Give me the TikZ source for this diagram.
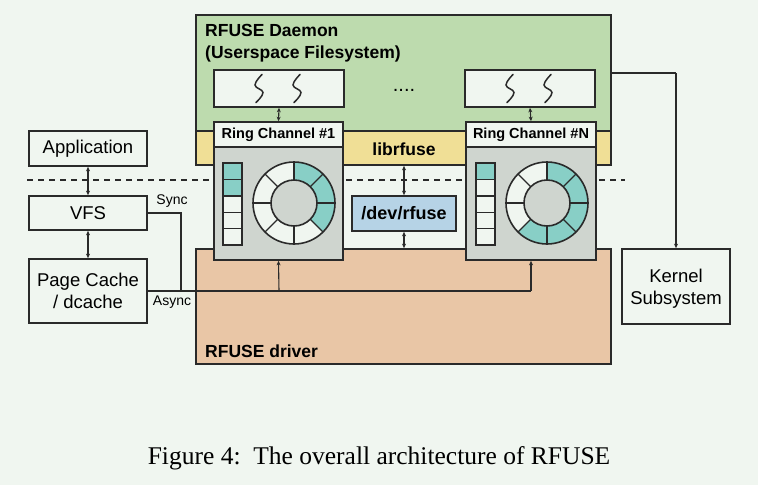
\documentclass[tikz,border=0pt]{standalone}
\usepackage{fontspec}
\setmainfont{Liberation Serif}
\setsansfont{Liberation Sans}
\usetikzlibrary{arrows.meta,calc}
\definecolor{bg}{HTML}{F0F6F0}
\definecolor{dgreen}{HTML}{BDDBAE}
\definecolor{dyellow}{HTML}{F0DF96}
\definecolor{rgray}{HTML}{CFD5CF}
\definecolor{rteal}{HTML}{88CFC6}
\definecolor{dpeach}{HTML}{E9C6A6}
\definecolor{dblue}{HTML}{B6D3E6}
\definecolor{lc}{HTML}{2A2A2A}
\tikzset{
  box/.style={draw=lc,line width=1.7pt,inner sep=0pt,align=center},
  lbl/.style={font=\sffamily\bfseries\fontsize{17.5}{22}\selectfont,anchor=base west,align=left,inner sep=0pt},
  plain/.style={font=\sffamily\fontsize{18.5}{22}\selectfont},
  dbl/.style={draw=lc,line width=1.1pt,{Stealth[length=4.5pt,width=4pt]}-{Stealth[length=4.5pt,width=4pt]}},
  sarr/.style={draw=lc,line width=1.1pt,-{Stealth[length=4.5pt,width=4pt]}},
  wire/.style={draw=lc,line width=1.1pt},
}
\begin{document}
\begin{tikzpicture}[x=1pt,y=-1pt]
\fill[bg] (0,0) rectangle (758,485);
\useasboundingbox (0,0) rectangle (758,485);
% dashed line
\draw[lc,line width=1.5pt,dash pattern=on 6pt off 5pt] (27,180) -- (625,180);
% daemon
\node[box,fill=dgreen,minimum width=415,minimum height=150] (daemon) at (403.5,90) {};
\node[box,fill=dyellow,minimum width=415,minimum height=34] (librfuse) at (403.5,148) {};
\node[font=\sffamily\bfseries\fontsize{17.5}{20}\selectfont] (libtxt) at (404,149) {librfuse};
\node[lbl] (dtxt) at (205,58) {RFUSE Daemon\\(Userspace Filesystem)};
% driver
\node[box,fill=dpeach,minimum width=415,minimum height=115] (driver) at (403.5,306.5) {};
\node[lbl] (drtxt) at (205,357) {RFUSE driver};
% thread boxes
\node[box,fill=bg,minimum width=130,minimum height=37] (th1) at (279,88.5) {};
\node[box,fill=bg,minimum width=130,minimum height=37] (thN) at (530,88.5) {};
\foreach \t in {th1,thN}{
  \foreach \dx in {-20,18}{
    \begin{scope}[shift={(\t)},xshift=\dx]
      \draw[lc,line width=1.5pt,line cap=round] plot[smooth,tension=0.7] coordinates {(3,-14) (-4,-3.5) (4,4) (-3,14)};
    \end{scope}
  }
}
\node[font=\sffamily\fontsize{20}{22}\selectfont,anchor=base] (dots) at (404,91) {....};
% ring channels
\node[box,fill=rgray,minimum width=129,minimum height=138] (ring1) at (278.5,191) {};
\node[box,fill=bg,minimum width=129,minimum height=25,font=\sffamily\bfseries\fontsize{14.5}{16}\selectfont] (h1) at (278.5,134.5) {Ring Channel \#1};
\node[box,fill=rgray,minimum width=130,minimum height=138] (ringN) at (531,191) {};
\node[box,fill=bg,minimum width=130,minimum height=25,font=\sffamily\bfseries\fontsize{14.5}{16}\selectfont] (hN) at (531,134.5) {Ring Channel \#N};
% queues
\foreach \x/\n in {223/2,476/1}{
  \foreach \k in {0,...,4}{
    \pgfmathsetmacro\yy{163+\k*16.4}
    \ifnum\k<\n
      \draw[lc,line width=1.4pt,fill=rteal] (\x,\yy) rectangle (\x+19,\yy+16.4);
    \else
      \draw[lc,line width=1.4pt,fill=bg] (\x,\yy) rectangle (\x+19,\yy+16.4);
    \fi
  }
}
% rings
\foreach \cx/\tl in {294/{-90,-45,0},547/{-90,-45,0,45,90}}{
  \fill[bg] (\cx,203) circle[radius=41];
  \foreach \a in \tl {
    \fill[rteal] ($(\cx,203)+(\a:23)$) -- ($(\cx,203)+(\a:41)$) arc[start angle=\a,end angle=\a+45,radius=41] -- ($(\cx,203)+(\a+45:23)$) arc[start angle=\a+45,end angle=\a,radius=23] -- cycle;
  }
  \foreach \a in {0,45,...,315}{
    \draw[lc,line width=1.4pt] ($(\cx,203)+(\a:23)$) -- ($(\cx,203)+(\a:41)$);
  }
  \draw[lc,line width=1.6pt] (\cx,203) circle[radius=41];
  \draw[lc,line width=1.6pt,fill=rgray] (\cx,203) circle[radius=23];
}
% dev
\node[box,fill=dblue,minimum width=104,minimum height=35,font=\sffamily\bfseries\fontsize{18}{20}\selectfont] (dev) at (404,213.5) {/dev/rfuse};
% arrows in daemon
\draw[dbl] (th1.south) -- (h1.north);
\draw[dbl] (thN.south) -- (hN.north);
\draw[dbl] (librfuse.south -| dev.north) -- (dev.north);
\draw[dbl] (dev.south) -- (driver.north -| dev.south);
% left boxes
\node[box,fill=bg,minimum width=118,minimum height=35,plain] (app) at (88,148.5) {Application};
\node[box,fill=bg,minimum width=118,minimum height=34,plain] (vfs) at (88,213) {VFS};
\node[box,fill=bg,minimum width=118,minimum height=64,plain] (pc) at (88,291) {Page Cache\\/ dcache};
\draw[dbl] (app.south) -- (vfs.north);
\draw[dbl] (vfs.south) -- (pc.north);
% sync/async
\coordinate (j) at (181,291);
\coordinate (b1) at (279,291);
\coordinate (bN) at (531,291);
\draw[wire] (vfs.east) -| (j);
\draw[wire] (pc.east) -- (bN);
\draw[sarr] (b1) -- (ring1.south);
\draw[sarr] (bN) -- (ringN.south);
\node[font=\sffamily\fontsize{14}{16}\selectfont] (sync) at (172,201) {Sync};
\node[font=\sffamily\fontsize{14}{16}\selectfont] (async) at (172,302) {Async};
% kernel
\node[box,fill=bg,minimum width=108,minimum height=75,plain] (kern) at (676,286.5) {};
\node[plain,align=center] (kerntxt) at (676,289) {Kernel\\Subsystem};
\coordinate (kc) at (676,73);
\draw[wire] (daemon.east |- kc) -- (kc);
\draw[sarr] (kc) -- (kern.north);
% caption
\node[font=\fontsize{25.5}{30}\selectfont] (cap) at (379,458) {Figure 4:\ \ The overall architecture of RFUSE};
\end{tikzpicture}
\end{document}
